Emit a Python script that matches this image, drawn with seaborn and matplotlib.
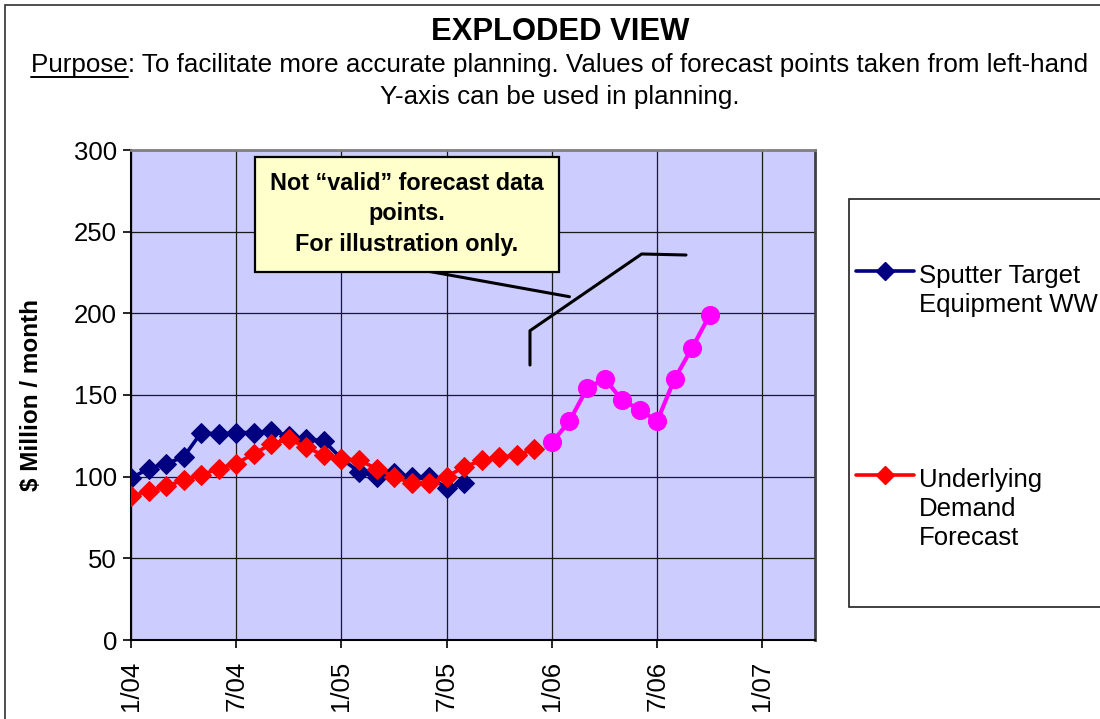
import matplotlib
matplotlib.use("Agg")
import matplotlib.pyplot as plt
from matplotlib.lines import Line2D
from matplotlib.patches import Rectangle
import seaborn as sns
import numpy as np

# ---------------- data ----------------
tick_labels = ["1/04", "7/04", "1/05", "7/05", "1/06", "7/06", "1/07"]
tick_months = [0, 6, 12, 18, 24, 30, 36]

sputter_months = list(range(0, 20))
sputter_values = [99, 105, 108, 112, 127, 126, 127, 127, 128, 125, 123, 122,
                  111, 103, 100, 102, 100, 100, 93, 96]

demand_months = list(range(0, 24))
demand_values = [88, 91, 94, 98, 101, 105, 108, 114, 120, 123, 118, 113,
                 111, 110, 105, 100, 96, 96, 100, 106, 110, 112, 113, 117]

illus_months = list(range(24, 34))
illus_values = [121, 134, 154, 160, 147, 141, 134, 160, 179, 199]

series_names = ["Sputter Target\nEquipment WW", "Underlying\nDemand\nForecast"]

# ---------------- style ----------------
sns.set_theme(style="white")
plt.rcParams["font.family"] = ["Liberation Sans", "DejaVu Sans"]

W, H = 1100, 719
fig = plt.figure(figsize=(W / 100, H / 100), dpi=100)
fig.patch.set_facecolor("white")

def fx(px):
    return px / W

def fy(py):
    return 1 - py / H

ax = fig.add_axes([fx(131), fy(640), fx(815) - fx(131), fy(150) - fy(640)])
ax.set_facecolor("#CCCCFF")

navy, red, magenta = "#000080", "#FF0000", "#FF00FF"

sns.lineplot(x=sputter_months, y=sputter_values, ax=ax, color=navy, marker="D",
             markersize=10, markeredgecolor=navy, linewidth=2.6,
             estimator=None, sort=False, legend=False, zorder=3)
sns.lineplot(x=demand_months, y=demand_values, ax=ax, color=red, marker="D",
             markersize=10, markeredgecolor=red, linewidth=2.6,
             estimator=None, sort=False, legend=False, zorder=4)
sns.lineplot(x=illus_months, y=illus_values, ax=ax, color=magenta, marker="o",
             markersize=13, markeredgecolor=magenta, linewidth=3,
             estimator=None, sort=False, legend=False, zorder=4)

ax.set_xlim(0, 39)
ax.set_ylim(0, 300)
ax.set_yticks([0, 50, 100, 150, 200, 250, 300])
ax.set_xticks(tick_months)
ax.set_xticklabels(tick_labels, rotation=90)
ax.grid(True, color="#1a1a1a", linewidth=0.9)
ax.set_axisbelow(True)
ax.tick_params(axis="both", which="major", labelsize=18.5, colors="black",
               direction="out", length=6, width=1.2, left=True, bottom=True)
ax.tick_params(axis="y", pad=4)
ax.tick_params(axis="x", pad=9)
for lab in ax.get_xticklabels() + ax.get_yticklabels():
    lab.set_color("black")

for s in ["left", "bottom"]:
    ax.spines[s].set_color("black")
    ax.spines[s].set_linewidth(1.5)
ax.spines["top"].set_color("#808080")
ax.spines["top"].set_linewidth(2)
ax.spines["right"].set_color("#404040")
ax.spines["right"].set_linewidth(2)

ax.set_xlabel("")
ax.set_ylabel("$ Million / month", fontsize=17.5, fontweight="bold", color="black")
ax.yaxis.set_label_coords((43 - 131) / 684, 0.5)

# ---------------- annotation box ----------------
box = Rectangle((0.1813, 0.7516), 0.6262 - 0.1813, 0.9863 - 0.7516,
                transform=ax.transAxes, facecolor="#FFFFCC", edgecolor="black",
                linewidth=1.6, zorder=6)
ax.add_patch(box)
ax.text(0.4035, 0.8694, "Not \u201cvalid\u201d forecast data\npoints.\nFor illustration only.",
        transform=ax.transAxes, ha="center", va="center", fontsize=16.8,
        fontweight="bold", color="black", linespacing=1.42, zorder=7)
ax.add_line(Line2D([0.425, 0.641], [0.755, 0.7006], transform=ax.transAxes,
                   color="black", linewidth=2.2, zorder=5))
ax.add_line(Line2D([0.5833, 0.5833, 0.7466, 0.8114], [0.5612, 0.6312, 0.7878, 0.7857],
                   transform=ax.transAxes, color="black", linewidth=2.2, zorder=5))

# ---------------- titles ----------------
fig.text(fx(560), fy(39.5), "EXPLODED VIEW", ha="center", va="baseline",
         fontsize=22.3, fontweight="bold", color="black")
line1 = "Purpose: To facilitate more accurate planning. Values of forecast points taken from left-hand"
t1 = fig.text(fx(560), fy(72), line1, ha="center", va="baseline", fontsize=18.75, color="black")
fig.text(fx(560), fy(104), "Y-axis can be used in planning.", ha="center", va="baseline",
         fontsize=18.75, color="black")

fig.canvas.draw()
rend = fig.canvas.get_renderer()
bb = t1.get_window_extent(rend)
tp = fig.text(bb.x0 / W, fy(72), "Purpose", ha="left", va="baseline", fontsize=18.75,
              alpha=0)
bbp = tp.get_window_extent(rend)
fig.add_artist(Line2D([bbp.x0 / W, bbp.x1 / W], [fy(76.5), fy(76.5)], transform=fig.transFigure,
                      color="black", linewidth=1.4))

# ---------------- legend (manual) ----------------
fig.add_artist(Rectangle((fx(849), fy(607)), fx(1110) - fx(849), fy(199) - fy(607),
                         transform=fig.transFigure, facecolor="white",
                         edgecolor="#202020", linewidth=1.2, zorder=1))
legend_specs = [
    (navy, 271, [282.7, 311.7], series_names[0].split("\n")),
    (red, 475, [486.7, 515.7, 544.7], series_names[1].split("\n")),
]
for color, yh, baselines, lines in legend_specs:
    fig.add_artist(Line2D([fx(856), fx(914)], [fy(yh), fy(yh)], transform=fig.transFigure,
                          color=color, linewidth=2.6, zorder=2))
    fig.add_artist(Line2D([fx(885)], [fy(yh)], transform=fig.transFigure, color=color,
                          marker="D", markersize=9, markeredgecolor=color, zorder=3))
    for yb, txt in zip(baselines, lines):
        fig.text(fx(919), fy(yb), txt, ha="left", va="baseline", fontsize=18.5,
                 color="black", zorder=3)

# outer frame
fig.add_artist(Rectangle((fx(5), fy(730)), fx(1110) - fx(5), fy(5) - fy(730),
                         transform=fig.transFigure, facecolor="none",
                         edgecolor="#303030", linewidth=1.2, zorder=0))

fig.savefig("out.png", dpi=100)
